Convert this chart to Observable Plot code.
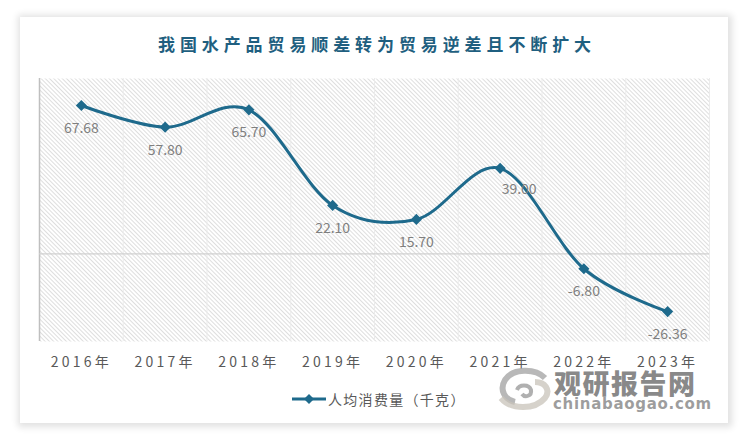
<!DOCTYPE html>
<html><head><meta charset="utf-8">
<script src="https://cdn.jsdelivr.net/npm/d3@7"></script>
<script src="https://cdn.jsdelivr.net/npm/@observablehq/plot@0.6"></script>
<style>
html,body{margin:0;padding:0;background:#fff;width:750px;height:441px;overflow:hidden;font-family:"Noto Sans CJK SC","Noto Sans",sans-serif;}
#card{position:absolute;left:20px;top:17px;width:708px;height:406px;background:#fff;box-shadow:1px 1px 7px 3px rgba(0,0,0,0.12);}
#title{position:absolute;left:0;top:31px;width:750px;text-align:center;font-size:17px;font-weight:bold;letter-spacing:4.9px;color:#1f5f80;padding-left:4px;box-sizing:border-box;}
#chart{position:absolute;left:0;top:0;}
#legend{position:absolute;left:292px;top:389px;font-size:14px;color:#595959;display:flex;align-items:center;letter-spacing:1.3px;}
#logo{position:absolute;left:495px;top:366px;}
#wm1{position:absolute;left:554px;top:363px;font-size:27px;font-weight:900;color:rgba(105,105,105,0.78);letter-spacing:1.5px;}
#wm2{position:absolute;left:553px;top:395px;font-size:15px;font-weight:bold;color:rgba(120,120,120,0.72);letter-spacing:0.7px;font-family:"DejaVu Sans",sans-serif;}
</style></head>
<body>
<div id="card"></div>
<div id="title">我国水产品贸易顺差转为贸易逆差且不断扩大</div>
<div id="chart"></div>
<div id="legend"><svg width="36" height="12"><line x1="0" y1="6" x2="34" y2="6" stroke="#1e6a8c" stroke-width="3"/><path d="M17,1 L22,6 L17,11 L12,6Z" fill="#1e6a8c"/></svg><span>人均消费量（千克）</span></div>
<svg id="logo" width="60" height="44">
  <path d="M50,12 C40,2 18,2 10,14 C4,24 10,34 20,36" fill="none" stroke="rgba(160,160,160,0.75)" stroke-width="6"/>
  <path d="M6,32 C16,44 40,44 50,32 C56,24 50,16 40,16" fill="none" stroke="rgba(200,195,185,0.75)" stroke-width="6"/>
  <path d="M22,24 C24,18 34,18 36,24 C37,30 30,32 27,28" fill="none" stroke="rgba(150,150,150,0.75)" stroke-width="4"/>
</svg>
<div id="wm1">观研报告网</div>
<div id="wm2">chinabaogao.com</div>
<script>
const years = ["2016年","2017年","2018年","2019年","2020年","2021年","2022年","2023年"];
const values = [67.68, 57.80, 65.70, 22.10, 15.70, 39.00, -6.80, -26.36];
const labels = ["67.68","57.80","65.70","22.10","15.70","39.00","-6.80","-26.36"];
const seriesName = "人均消费量（千克）";

const data = years.map((y, i) => ({i, year: y, value: values[i], label: labels[i]}));
const bounds = d3.range(years.length + 1).map(k => k - 0.5);
const lineColor = "#1e6a8c";

const plot = Plot.plot({
  width: 750,
  height: 390,
  marginLeft: 39,
  marginRight: 41,
  marginTop: 78,
  marginBottom: 49,
  style: {background: "transparent", fontFamily: "'Noto Sans CJK SC', sans-serif"},
  x: {type: "linear", domain: [-0.5, years.length - 0.5], axis: null},
  y: {domain: [-40, 80], axis: null},
  marks: [
    Plot.frame({fill: "url(#hatch)", stroke: null}),
    Plot.ruleX(bounds, {x: d => d, stroke: "#ebebeb", strokeWidth: 1}),
    Plot.ruleX([bounds[0]], {x: d => d, stroke: "#bfbfbf", strokeWidth: 1.5}),
    Plot.ruleY([0], {stroke: "#d0d0d0", strokeWidth: 1.2}),
    Plot.axisX(data.map(d => d.i), {tickSize: 0, tickPadding: 16, tickFormat: i => years[i], label: null, fontSize: 14, fill: "#595959", anchor: "bottom", className: "xax"}),
    Plot.line(data, {x: "i", y: "value", curve: "cardinal", stroke: lineColor, strokeWidth: 3}),
    Plot.dot(data, {x: "i", y: "value", symbol: "diamond2", r: 5, fill: lineColor, stroke: null}),
    Plot.text(data.filter(d => d.i !== 5), {x: "i", y: "value", text: "label", dy: 23, fontSize: 14, fill: "#7f7f7f"}),
    Plot.text(data.filter(d => d.i === 5), {x: "i", y: "value", text: "label", dy: 21, dx: 19, fontSize: 14, fill: "#7f7f7f"})
  ]
});

const svg = d3.select(plot);
const defs = svg.insert("defs", ":first-child");
const pat = defs.append("pattern").attr("id", "hatch").attr("patternUnits", "userSpaceOnUse")
  .attr("width", 3).attr("height", 3).attr("patternTransform", "rotate(-45)");
pat.append("rect").attr("width", 3).attr("height", 3).attr("fill", "#ffffff");
pat.append("line").attr("x1", 0).attr("y1", 0).attr("x2", 0).attr("y2", 3).attr("stroke", "#c4c4c4").attr("stroke-width", 1.1);
svg.selectAll(".xax text").style("letter-spacing", "3.2px");
document.getElementById("chart").appendChild(plot);
</script>
</body></html>
